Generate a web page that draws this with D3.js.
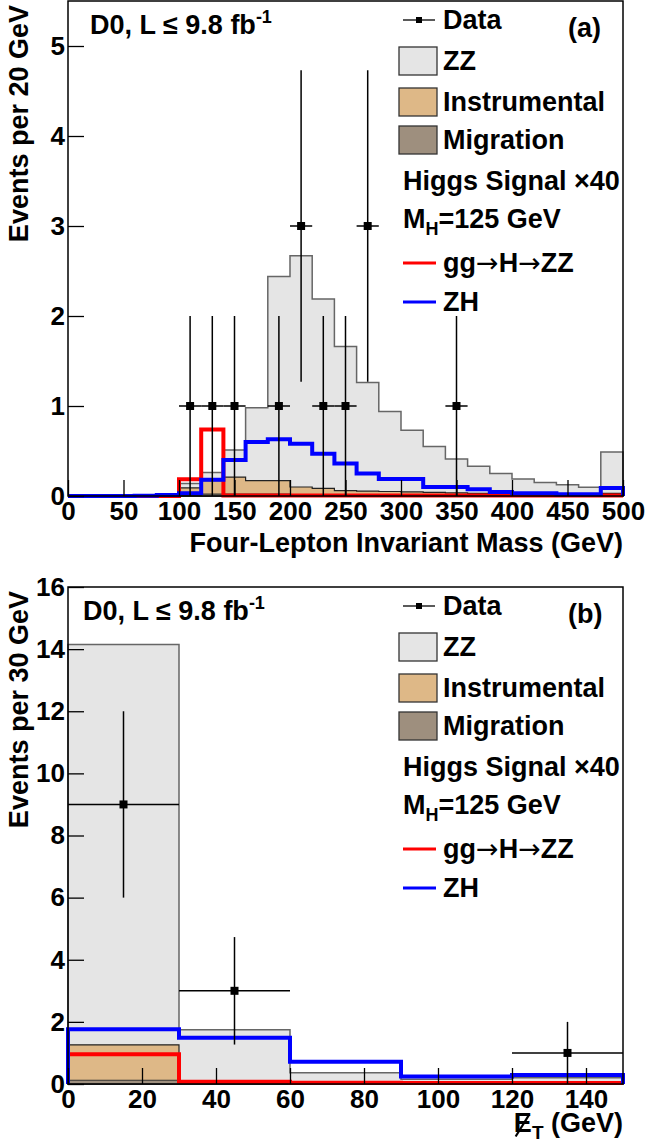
<!DOCTYPE html>
<html>
<head>
<meta charset="utf-8">
<script src="https://cdn.jsdelivr.net/npm/d3@7"></script>
<style>
body { margin: 0; background: #fff; }
text { font-family: "Liberation Sans", Arial, sans-serif; font-weight: bold; fill: #000; }
.arrow { font-family: "DejaVu Sans", sans-serif; font-weight: normal; }
</style>
</head>
<body>
<script type="text/javascript">
var w = 647;
var h = 1144;

// ---- panel (a): four-lepton invariant mass, 20 GeV bins ----
var massBins  = [0,20,40,60,80,100,120,140,160,180,200,220,240,260,280,300,320,340,360,380,400,420,440,460,480,500];
var massZZ    = [0,0,0,0.005,0.01,0.05,0.09,0.30,0.81,2.27,2.57,2.105,1.60,1.205,0.89,0.685,0.51,0.375,0.30,0.22,0.165,0.13,0.105,0.077,0.46];
var massInstr = [0,0,0,0,0.01,0.08,0.15,0.19,0.15,0.15,0.085,0.075,0.05,0.045,0.04,0.037,0.032,0.029,0.024,0.025,0.02,0.015,0.015,0.015,0.022];
var massMigr  = [0,0,0,0,0,0.01,0.02,0.02,0.02,0.02,0.015,0.01,0.01,0.01,0.01,0.008,0.008,0.006,0.006,0.005,0.005,0.005,0.005,0.005,0.008];
var massGGH   = [0,0,0,0,0,0.185,0.74,0.005,0.005,0.005,0.005,0.005,0.005,0.005,0.005,0.005,0.005,0.005,0.005,0.005,0.005,0.005,0.005,0.005,0.005];
var massZH    = [0,0,0,0.003,0.01,0.03,0.18,0.40,0.60,0.63,0.58,0.47,0.36,0.25,0.19,0.19,0.10,0.10,0.074,0.044,0.03,0.03,0.02,0.02,0.09];
var massDataX = [110,130,150,190,210,230,250,270,350];
var massDataN = [1,1,1,1,3,1,1,3,1];
var massDataE = [1,1,1,1,1.73,1,1,1.73,1];
var massXTicks = [0,50,100,150,200,250,300,350,400,450,500];
var massYTicks = [0,1,2,3,4,5];

// ---- panel (b): missing transverse energy, 30 GeV bins ----
var metBins  = [0,30,60,90,120,150];
var metZZ    = [12.89,1.73,0.35,0.14,0.19];
var metInstr = [1.14,0,0,0,0];
var metMigr  = [0.12,0.02,0.01,0.01,0.01];
var metGGH   = [0.96,0.07,0.04,0.03,0.03];
var metZH    = [1.76,1.49,0.72,0.24,0.29];
var metDataX = [15,45,135];
var metDataN = [9,3,1];
var metDataE = [3,1.73,1];
var metXTicks = [0,20,40,60,80,100,120,140];
var metYTicks = [0,2,4,6,8,10,12,14,16];

var legendRows = ["Data","ZZ","Instrumental","Migration","Higgs Signal \u00d740","MH","ggHZZ","ZH"];

const svg = d3.select("body").append("svg").attr("width", w).attr("height", h).style("background-color", "white");

// step outline of a histogram, starting and ending on zero
function histPoints(edges, vals, x, y) {
  var pts = [[x(edges[0]), y(0)]];
  vals.forEach(function (v, i) {
    pts.push([x(edges[i]), y(v)]);
    pts.push([x(edges[i + 1]), y(v)]);
  });
  pts.push([x(edges[edges.length - 1]), y(0)]);
  return pts;
}

function drawPanel(p) {
  var g = svg.append("g");
  var x = d3.scaleLinear().domain([p.bins[0], p.bins[p.bins.length - 1]]).range([68, 623]);
  var y = d3.scaleLinear().domain([0, p.ymax]).range([p.bottom, p.top]);
  var line = d3.line();

  // stacked backgrounds: migration at the bottom, then instrumental, then ZZ
  var cMigr = p.migr.slice();
  var cInstr = p.instr.map(function (v, i) { return v + cMigr[i]; });
  var cZZ = p.zz.map(function (v, i) { return v + cInstr[i]; });
  g.append("path").attr("d", line(histPoints(p.bins, cZZ, x, y)) + "Z")
    .attr("fill", "#e5e5e5").attr("stroke", "#666").attr("stroke-width", 1.5);
  g.append("path").attr("d", line(histPoints(p.bins, cInstr, x, y)) + "Z")
    .attr("fill", "#deb887").attr("stroke", "#222").attr("stroke-width", 1.2);
  g.append("path").attr("d", line(histPoints(p.bins, cMigr, x, y)) + "Z")
    .attr("fill", "#9e8f7e").attr("stroke", "#333").attr("stroke-width", 1.2);

  // signal x40
  g.append("path").attr("d", line(histPoints(p.bins, p.ggh, x, y)))
    .attr("fill", "none").attr("stroke", "#ff0000").attr("stroke-width", 4);
  g.append("path").attr("d", line(histPoints(p.bins, p.zh, x, y)))
    .attr("fill", "none").attr("stroke", "#0000ff").attr("stroke-width", 4);

  // data with errors
  var half = (p.bins[1] - p.bins[0]) / 2;
  var pts = g.selectAll(".pt").data(p.dataX).enter().append("g");
  pts.append("line")
    .attr("x1", function (d) { return x(d); }).attr("x2", function (d) { return x(d); })
    .attr("y1", function (d, i) { return y(Math.max(0, p.dataN[i] - p.dataE[i])); })
    .attr("y2", function (d, i) { return y(p.dataN[i] + p.dataE[i]); })
    .attr("stroke", "#000").attr("stroke-width", 1.5);
  pts.append("line")
    .attr("x1", function (d) { return x(d - half); }).attr("x2", function (d) { return x(d + half); })
    .attr("y1", function (d, i) { return y(p.dataN[i]); }).attr("y2", function (d, i) { return y(p.dataN[i]); })
    .attr("stroke", "#000").attr("stroke-width", 1.5);
  pts.append("rect")
    .attr("x", function (d) { return x(d) - 4; }).attr("y", function (d, i) { return y(p.dataN[i]) - 4; })
    .attr("width", 8).attr("height", 8).attr("fill", "#000");

  // axes, ticks pointing into the frame
  var xAxis = g.append("g").attr("transform", "translate(0," + p.bottom + ")");
  xAxis.call(d3.axisBottom(x).tickValues(p.xMinor).tickSize(-8).tickFormat(""));
  xAxis.call(d3.axisBottom(x).tickValues(p.xTicks).tickSize(-16).tickPadding(6).tickFormat(d3.format("d")));
  var yAxis = g.append("g").attr("transform", "translate(68,0)");
  yAxis.call(d3.axisLeft(y).tickValues(p.yMinor).tickSize(-8).tickFormat(""));
  yAxis.call(d3.axisLeft(y).tickValues(p.yTicks).tickSize(-16).tickPadding(3).tickFormat(d3.format("d")));
  g.selectAll(".domain").remove();
  g.selectAll(".tick line").attr("stroke", "#000").attr("stroke-width", 1.3);
  g.selectAll(".tick text").style("font-size", "26px").style("font-family", "Liberation Sans, Arial, sans-serif").style("font-weight", "bold");

  g.append("rect").attr("x", 68).attr("y", p.top).attr("width", 555).attr("height", p.bottom - p.top)
    .attr("fill", "none").attr("stroke", "#000").attr("stroke-width", 1.5);

  // axis titles
  g.append("text").attr("transform", "translate(28," + (p.top + 4) + ") rotate(-90)")
    .attr("text-anchor", "end").style("font-size", "27px").text(p.yTitle);
  if (p.met) {
    var t = g.append("text").attr("x", 623).attr("y", p.bottom + 48).attr("text-anchor", "end").style("font-size", "27px");
    t.append("tspan").text("E");
    t.append("tspan").attr("dy", 7).style("font-size", "19px").text("T");
    t.append("tspan").attr("dy", -7).text(" (GeV)");
    // slash through the E (missing energy)
    var box = t.node().getExtentOfChar(0);
    g.append("line")
      .attr("x1", box.x + box.width * 0.85).attr("y1", box.y + box.height * 0.22)
      .attr("x2", box.x + box.width * 0.1).attr("y2", box.y + box.height * 0.95)
      .attr("stroke", "#000").attr("stroke-width", 2.2);
  } else {
    g.append("text").attr("x", 623).attr("y", p.bottom + 56).attr("text-anchor", "end")
      .style("font-size", "27px").text(p.xTitle);
  }

  // labels
  var lab = g.append("text").attr("x", p.labX).attr("y", p.top + 33).style("font-size", "27px");
  lab.append("tspan").text("D0, L \u2264 9.8 fb");
  lab.append("tspan").attr("dy", -11).style("font-size", "18px").text("-1");
  g.append("text").attr("x", 568).attr("y", p.top + 36).style("font-size", "27px").text(p.tag);

  // legend
  var rowY = [19, 60, 101, 139, 180, 218, 262, 301];
  var leg = g.selectAll(".leg").data(legendRows).enter().append("g")
    .attr("transform", function (d, i) { return "translate(0," + (p.top + rowY[i]) + ")"; });
  leg.each(function (d, i) {
    var r = d3.select(this);
    var tx = (i == 4 || i == 5) ? 403 : 443;
    if (i == 0) {
      r.append("line").attr("x1", 403).attr("x2", 435).attr("stroke", "#000").attr("stroke-width", 1.3);
      r.append("rect").attr("x", 416).attr("y", -3).attr("width", 6).attr("height", 6).attr("fill", "#000");
    } else if (i >= 1 && i <= 3) {
      var fills = ["#e5e5e5", "#deb887", "#9e8f7e"];
      r.append("rect").attr("x", 399).attr("y", -14).attr("width", 38).attr("height", 28)
        .attr("fill", fills[i - 1]).attr("stroke", "#333").attr("stroke-width", 1.3);
    } else if (i >= 6) {
      r.append("line").attr("x1", 403).attr("x2", 436).attr("stroke", i == 6 ? "#ff0000" : "#0000ff").attr("stroke-width", 3);
    }
    var t = r.append("text").attr("x", tx).attr("y", 9).style("font-size", "27px");
    if (d == "MH") {
      t.append("tspan").text("M");
      t.append("tspan").attr("dy", 7).style("font-size", "18px").text("H");
      t.append("tspan").attr("dy", -7).text("=125 GeV");
    } else if (d == "ggHZZ") {
      t.append("tspan").text("gg");
      t.append("tspan").attr("class", "arrow").text("\u2192");
      t.append("tspan").text("H");
      t.append("tspan").attr("class", "arrow").text("\u2192");
      t.append("tspan").text("ZZ");
    } else {
      t.text(d);
    }
  });
}

drawPanel({
  bins: massBins, zz: massZZ, instr: massInstr, migr: massMigr, ggh: massGGH, zh: massZH,
  dataX: massDataX, dataN: massDataN, dataE: massDataE,
  xTicks: massXTicks, xMinor: d3.range(0, 501, 10), yTicks: massYTicks, yMinor: d3.range(0, 5.5, 0.2),
  ymax: 5.5, top: 1, bottom: 496, labX: 90, tag: "(a)",
  yTitle: "Events per 20 GeV", xTitle: "Four-Lepton Invariant Mass (GeV)", met: false
});

drawPanel({
  bins: metBins, zz: metZZ, instr: metInstr, migr: metMigr, ggh: metGGH, zh: metZH,
  dataX: metDataX, dataN: metDataN, dataE: metDataE,
  xTicks: metXTicks, xMinor: d3.range(0, 151, 5), yTicks: metYTicks, yMinor: d3.range(0, 16.01, 0.5),
  ymax: 16, top: 587, bottom: 1084, labX: 83, tag: "(b)",
  yTitle: "Events per 30 GeV", met: true
});
</script>
</body>
</html>
